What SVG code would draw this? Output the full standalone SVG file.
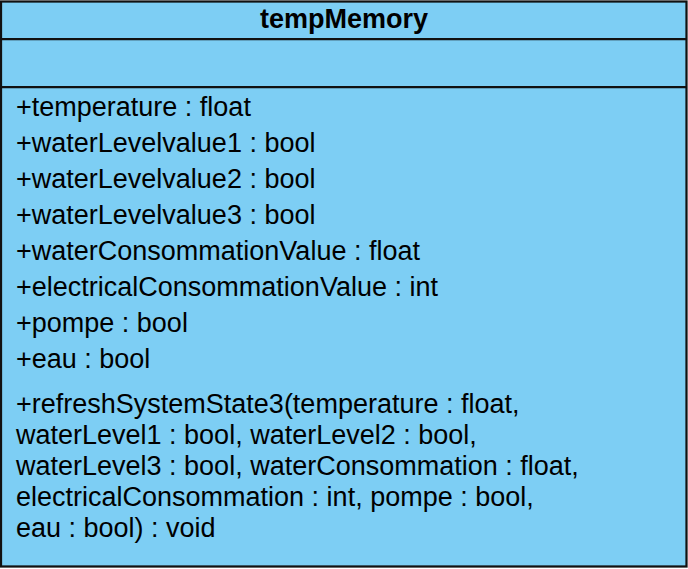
<svg xmlns="http://www.w3.org/2000/svg" width="688" height="569" viewBox="0 0 688 569">
  <style>
    .box { fill: #7dcef4; stroke: #111; stroke-width: 2.25; }
    .sep { stroke: #111; stroke-width: 2.25; fill: none; }
    .title { font-family: "Liberation Sans", Arial, sans-serif; font-size: 27px; font-weight: bold; fill: #000; text-anchor: middle; }
    .member { font-family: "Liberation Sans", Arial, sans-serif; font-size: 27px; fill: #000; }
  </style>
  <rect width="688" height="569" fill="#ffffff"/>
  <g id="tempMemory">
    <rect class="box" x="1" y="1.5" width="685.5" height="565"/>
    <line class="sep" x1="1" y1="39" x2="686.5" y2="39"/>
    <line class="sep" x1="1" y1="87" x2="686.5" y2="87"/>
    <text class="title" x="344" y="28">tempMemory</text>
    <g id="attributes">
      <text class="member" x="16" y="116">+temperature : float</text>
      <text class="member" x="16" y="152">+waterLevelvalue1 : bool</text>
      <text class="member" x="16" y="188">+waterLevelvalue2 : bool</text>
      <text class="member" x="16" y="224">+waterLevelvalue3 : bool</text>
      <text class="member" x="16" y="260">+waterConsommationValue : float</text>
      <text class="member" x="16" y="296">+electricalConsommationValue : int</text>
      <text class="member" x="16" y="332">+pompe : bool</text>
      <text class="member" x="16" y="368">+eau : bool</text>
    </g>
    <g id="operations">
      <text class="member" x="16" y="413">+refreshSystemState3(temperature : float,</text>
      <text class="member" x="16" y="444">waterLevel1 : bool, waterLevel2 : bool,</text>
      <text class="member" x="16" y="475">waterLevel3 : bool, waterConsommation : float,</text>
      <text class="member" x="16" y="506">electricalConsommation : int, pompe : bool,</text>
      <text class="member" x="16" y="537">eau : bool) : void</text>
    </g>
  </g>
</svg>
